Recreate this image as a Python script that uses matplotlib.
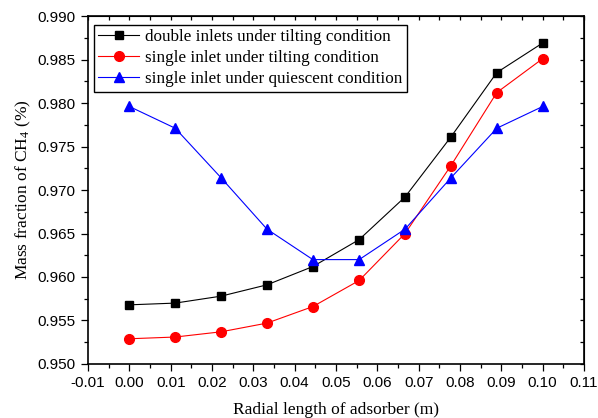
import numpy as np
import matplotlib
matplotlib.use('Agg')
import matplotlib.pyplot as plt
from matplotlib.ticker import MultipleLocator, FormatStrFormatter

# Radial positions (m)
radial = [0.0, 0.0111, 0.0222, 0.0333, 0.0444, 0.0556, 0.0667, 0.0778, 0.0889, 0.1]

# Mass fraction of CH4
double_tilting = [0.9568, 0.9570, 0.9578, 0.9591, 0.9612, 0.9643, 0.9692, 0.9761, 0.9835, 0.9869]
single_tilting = [0.9529, 0.9531, 0.9537, 0.9547, 0.9566, 0.9596, 0.9650, 0.9728, 0.9812, 0.9851]
single_quiescent = [0.9796, 0.9771, 0.9714, 0.9655, 0.9620, 0.9620, 0.9655, 0.9714, 0.9771, 0.9796]

labels = ['double inlets under tilting condition',
          'single inlet under tilting condition',
          'single inlet under quiescent condition']

plt.rcParams['mathtext.fontset'] = 'custom'
plt.rcParams['mathtext.rm'] = 'Liberation Serif'
plt.rcParams['mathtext.it'] = 'Liberation Serif:italic'

fig = plt.figure(figsize=(5.98, 4.18), dpi=100)
ax = fig.add_axes([0.1472, 0.1292, 0.8294, 0.8325])

ax.plot(radial, double_tilting, color='black', lw=0.8, marker='s', ms=6, label=labels[0])
ax.plot(radial, single_tilting, color='red', lw=0.8, marker='o', ms=7, label=labels[1])
ax.plot(radial, single_quiescent, color='blue', lw=0.8, marker='^', ms=7.5, label=labels[2])

ax.set_xlim(-0.01, 0.11)
ax.set_ylim(0.950, 0.990)
ax.xaxis.set_major_locator(MultipleLocator(0.01))
ax.xaxis.set_minor_locator(MultipleLocator(0.005))
ax.yaxis.set_major_locator(MultipleLocator(0.005))
ax.yaxis.set_minor_locator(MultipleLocator(0.0025))
ax.xaxis.set_major_formatter(FormatStrFormatter('%.2f'))
ax.yaxis.set_major_formatter(FormatStrFormatter('%.3f'))

ax.tick_params(which='both', direction='out', top=False, right=False)
ax.tick_params(which='major', length=5, width=0.9, labelsize=11, pad=4)
ax.tick_params(which='minor', length=3, width=0.9)
for lab in ax.get_xticklabels() + ax.get_yticklabels():
    lab.set_family('Liberation Sans')

# mirrored inward ticks on top and right
secx = ax.secondary_xaxis('top')
secx.xaxis.set_major_locator(MultipleLocator(0.005))
secx.tick_params(direction='in', length=3, width=0.9, labeltop=False)
secy = ax.secondary_yaxis('right')
secy.yaxis.set_major_locator(MultipleLocator(0.0025))
secy.tick_params(direction='in', length=3, width=0.9, labelright=False)

for s in ax.spines.values():
    s.set_linewidth(1.2)

ax.set_xlabel('Radial length of adsorber (m)', family='Liberation Serif', fontsize=12.5, labelpad=8)
ax.set_ylabel('Mass fraction of CH$_4$ (%)', family='Liberation Serif', fontsize=12.5, labelpad=3)

leg = ax.legend(loc='upper left', bbox_to_anchor=(0.012, 0.975), fancybox=False,
                edgecolor='black', framealpha=1, handlelength=2.4, borderpad=0.25,
                labelspacing=0.3, handletextpad=0.35, borderaxespad=0,
                prop={'family': 'Liberation Serif', 'size': 12.3})
leg.get_frame().set_linewidth(1.0)

fig.savefig('out.png', dpi=100)
